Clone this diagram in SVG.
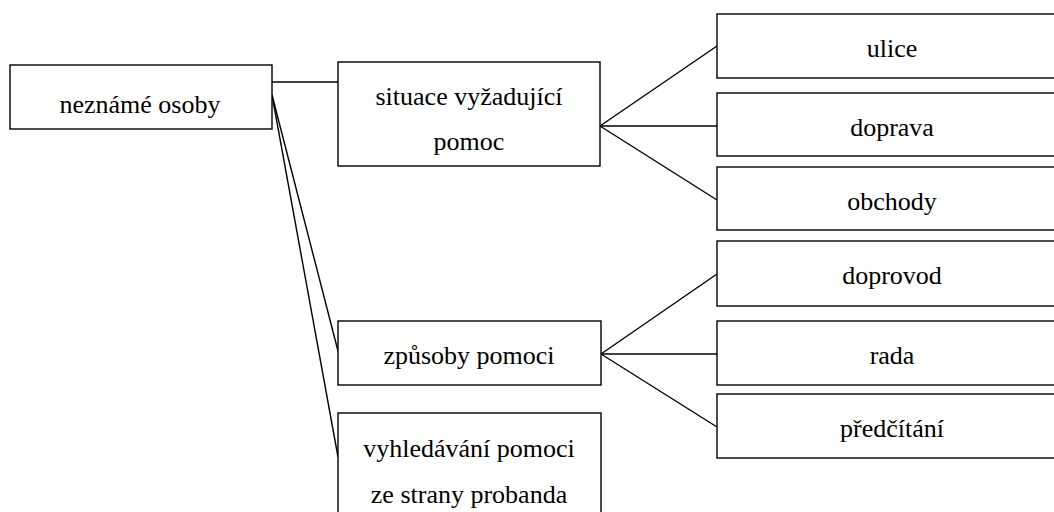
<svg xmlns="http://www.w3.org/2000/svg" width="1054" height="512" viewBox="0 0 1054 512">
<style>
.box{fill:#fff;stroke:#000;stroke-width:1.4}
.t{font-family:'Liberation Serif','Times New Roman',Times,'Tinos','DejaVu Serif',serif;font-size:26px;fill:#000;text-anchor:middle}
.c{stroke:#000;stroke-width:1.4;fill:none}
</style>
<rect width="1054" height="512" fill="#fff"/>
<g id="connectors">
<line class="c" x1="272" y1="82" x2="338" y2="82"/>
<line class="c" x1="272" y1="95" x2="338" y2="351"/>
<line class="c" x1="272" y1="95" x2="338" y2="457"/>
<line class="c" x1="600" y1="126" x2="717" y2="46"/>
<line class="c" x1="600" y1="126" x2="717" y2="126"/>
<line class="c" x1="600" y1="126" x2="717" y2="200"/>
<line class="c" x1="601" y1="354" x2="717" y2="274"/>
<line class="c" x1="601" y1="354" x2="717" y2="354"/>
<line class="c" x1="601" y1="354" x2="717" y2="427"/>
</g>
<g id="n-neznamé-osoby"><rect class="box" x="10" y="65" width="262" height="64"/><text class="t" x="140" y="113" font-family="Liberation Serif, serif">neznámé osoby</text></g>
<g id="n-situace"><rect class="box" x="338" y="62" width="262" height="104"/><text class="t" x="469" y="105">situace vyžadující</text><text class="t" x="469" y="150">pomoc</text></g>
<g id="n-zpusoby"><rect class="box" x="338" y="321" width="263" height="64"/><text class="t" x="469" y="364">způsoby pomoci</text></g>
<g id="n-vyhledavani"><rect class="box" x="338" y="413" width="263" height="120"/><text class="t" x="469" y="457">vyhledávání pomoci</text><text class="t" x="469" y="503">ze strany probanda</text></g>
<g id="n-ulice"><rect class="box" x="717" y="14" width="360" height="64"/><text class="t" x="892" y="57">ulice</text></g>
<g id="n-doprava"><rect class="box" x="717" y="93" width="360" height="63"/><text class="t" x="892" y="136">doprava</text></g>
<g id="n-obchody"><rect class="box" x="717" y="167" width="360" height="63"/><text class="t" x="892" y="210">obchody</text></g>
<g id="n-doprovod"><rect class="box" x="717" y="241" width="360" height="65"/><text class="t" x="892" y="284">doprovod</text></g>
<g id="n-rada"><rect class="box" x="717" y="321" width="360" height="64"/><text class="t" x="892" y="364">rada</text></g>
<g id="n-predcitani"><rect class="box" x="717" y="394" width="360" height="64"/><text class="t" x="892" y="437">předčítání</text></g>
</svg>
